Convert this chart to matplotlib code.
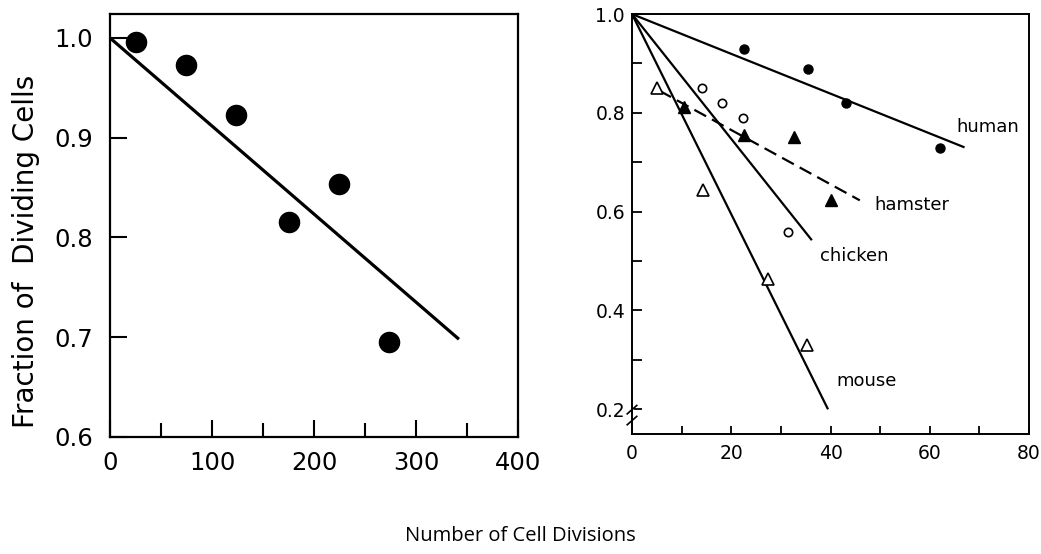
import matplotlib
matplotlib.use("Agg")
import matplotlib.pyplot as plt
import numpy as np

# ---- Left panel data ----
left_x = [25, 74, 123, 175, 224, 273]
left_y = [0.996, 0.973, 0.923, 0.816, 0.854, 0.695]
left_fit_x = [0, 342]
left_fit_y = [1.0, 0.698]

# ---- Right panel data ----
human_x = [22.6, 35.4, 43.2, 62.1]
human_y = [0.929, 0.889, 0.819, 0.728]
human_fit_x = [0, 66.8]
human_fit_y = [1.0, 0.731]

hamster_x = [10.4, 22.6, 32.7, 40.0]
hamster_y = [0.811, 0.755, 0.752, 0.623]
hamster_fit_x = [5.5, 45.9]
hamster_fit_y = [0.845, 0.623]

chicken_x = [14.2, 18.2, 22.4, 31.5]
chicken_y = [0.850, 0.820, 0.789, 0.559]
chicken_fit_x = [0, 36.1]
chicken_fit_y = [1.0, 0.544]

mouse_x = [5.1, 14.4, 27.4, 35.2]
mouse_y = [0.850, 0.644, 0.463, 0.330]
mouse_fit_x = [0, 39.4]
mouse_fit_y = [1.0, 0.202]

species_labels = ["human", "hamster", "chicken", "mouse"]
label_pos_x = [71.6, 56.3, 44.7, 47.2]
label_pos_y = [0.772, 0.613, 0.510, 0.257]

left_xticks = [0, 100, 200, 300, 400]
left_yticks = [0.6, 0.7, 0.8, 0.9, 1.0]
right_xticks = [0, 20, 40, 60, 80]
right_yticks = [0.2, 0.4, 0.6, 0.8, 1.0]

xlabel_text = "Number of Cell Divisions"
ylabel_text = "Fraction of  Dividing Cells"

plt.rcParams['font.family'] = ['DejaVu Sans']

fig = plt.figure(figsize=(10.41, 5.54), dpi=100)

# ---------- Left panel ----------
ax1 = fig.add_axes([0.1057, 0.2112, 0.392, 0.7635])
ax1.plot(left_fit_x, left_fit_y, color='black', lw=2.3, solid_capstyle='butt')
ax1.plot(left_x, left_y, 'o', color='black', markersize=14.5, clip_on=False)
ax1.set_xlim(0, 400)
ax1.set_ylim(0.6, 1.024)
ax1.set_xticks(left_xticks)
ax1.set_xticklabels([str(v) for v in left_xticks])
ax1.set_xticks([50, 150, 250, 350], minor=True)
ax1.set_yticks(left_yticks)
ax1.set_yticklabels(["%.1f" % v for v in left_yticks])
ax1.tick_params(axis='both', which='major', direction='in', length=12, width=1.5,
                labelsize=17.5, pad=12)
ax1.tick_params(axis='x', which='minor', direction='in', length=10, width=1.5)
ax1.tick_params(axis='x', which='major', pad=10)
for s in ax1.spines.values():
    s.set_linewidth(1.6)
ax1.set_ylabel(ylabel_text, fontsize=20, va='center')
ax1.yaxis.set_label_coords(-0.207, 0.44)

# ---------- Right panel ----------
ax2 = fig.add_axes([0.6071, 0.2166, 0.3814, 0.758])
lw = 1.6
ax2.plot(human_fit_x, human_fit_y, color='black', lw=lw)
ax2.plot(chicken_fit_x, chicken_fit_y, color='black', lw=lw)
ax2.plot(mouse_fit_x, mouse_fit_y, color='black', lw=lw)
ax2.plot(hamster_fit_x, hamster_fit_y, color='black', lw=lw, dashes=(6, 3))

ax2.plot(human_x, human_y, 'o', color='black', markersize=6.5)
ax2.plot(hamster_x, hamster_y, '^', color='black', markersize=8)
ax2.plot(chicken_x, chicken_y, 'o', markerfacecolor='white', markeredgecolor='black',
         markersize=6, markeredgewidth=1.2)
ax2.plot(mouse_x, mouse_y, '^', markerfacecolor='white', markeredgecolor='black',
         markersize=8, markeredgewidth=1.2)

for lab, lx, ly in zip(species_labels, label_pos_x, label_pos_y):
    ax2.text(lx, ly, lab, fontsize=13, ha='center', va='center')

ax2.set_xlim(0, 80)
ax2.set_ylim(0.15, 1.0)
ax2.set_xticks(right_xticks)
ax2.set_xticklabels([str(v) for v in right_xticks])
ax2.set_xticks([10, 30, 50, 70], minor=True)
ax2.set_yticks(right_yticks)
ax2.set_yticklabels(["%.1f" % v for v in right_yticks])
ax2.set_yticks([0.3, 0.5, 0.7, 0.9], minor=True)
ax2.tick_params(axis='both', which='both', direction='in', width=1.3, labelsize=13.5)
ax2.tick_params(axis='y', which='both', length=7, pad=5)
ax2.tick_params(axis='x', which='both', length=6, pad=7)
for s in ax2.spines.values():
    s.set_linewidth(1.4)

# axis break marks on the left spine
ax2.plot([0, 0], [0.036, 0.054], transform=ax2.transAxes, color='white',
         lw=3, clip_on=False)
ax2.plot([-0.012, 0.012], [0.022, 0.042], transform=ax2.transAxes, color='black',
         lw=1.2, clip_on=False)
ax2.plot([-0.012, 0.012], [0.048, 0.068], transform=ax2.transAxes, color='black',
         lw=1.2, clip_on=False)

fig.text(0.4995, 0.033, xlabel_text, fontsize=14.5, ha='center', va='center',
         family=['Open Sans', 'DejaVu Sans'])

fig.savefig("out.png", dpi=100)
